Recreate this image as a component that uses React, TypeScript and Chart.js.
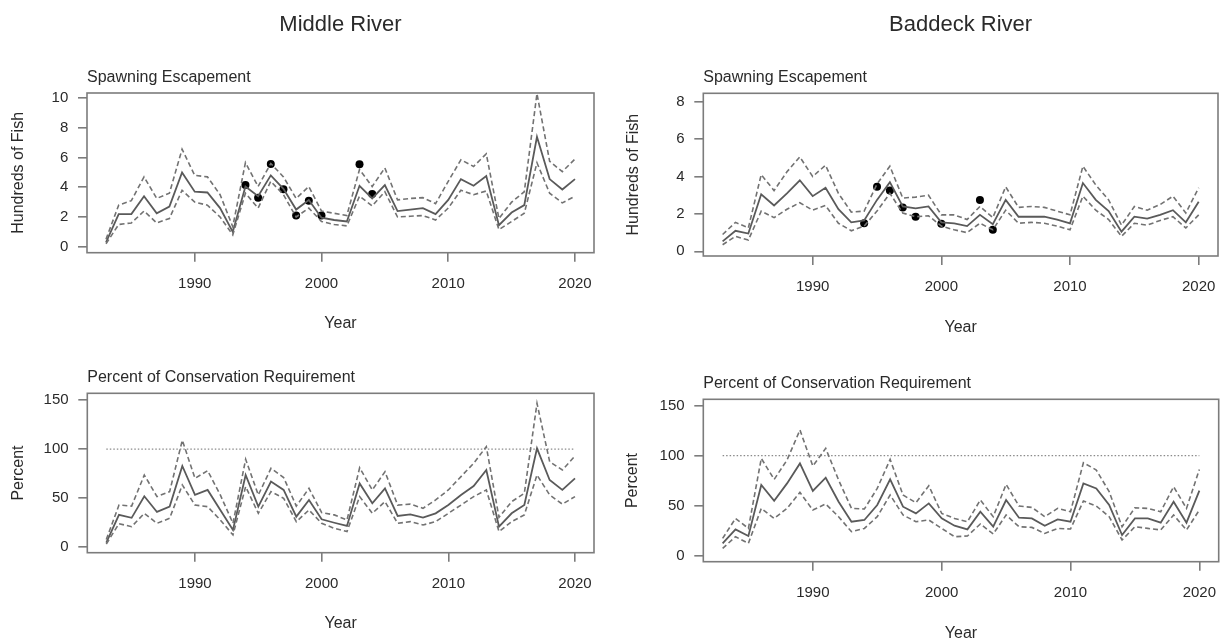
import React, { useEffect, useRef } from 'react';
import { Chart, registerables } from 'chart.js';

Chart.register(...registerables);

// ---------------- DATA ----------------
const years = [1983, 1984, 1985, 1986, 1987, 1988, 1989, 1990, 1991, 1992, 1993, 1994, 1995, 1996, 1997, 1998, 1999, 2000, 2001, 2002, 2003, 2004, 2005, 2006, 2007, 2008, 2009, 2010, 2011, 2012, 2013, 2014, 2015, 2016, 2017, 2018, 2019, 2020];

const xTickYears = [1990, 2000, 2010, 2020];
const escTicksMiddle = [0, 2, 4, 6, 8, 10];
const escTicksBaddeck = [0, 2, 4, 6, 8];
const pctTicks = [0, 50, 100, 150];
const conservationLine = 100;

// Middle River – spawning escapement (hundreds of fish)
const middleEscMid = [0.3, 2.2, 2.2, 3.4, 2.25, 2.7, 5.0, 3.7, 3.65, 2.6, 1.0, 4.05, 3.4, 4.8, 3.9, 2.5, 3.15, 1.95, 1.8, 1.7, 4.1, 3.25, 4.15, 2.4, 2.5, 2.6, 2.2, 3.15, 4.55, 4.1, 4.75, 1.45, 2.3, 2.8, 7.4, 4.55, 3.85, 4.55];
const middleEscUpper = [0.5, 2.8, 3.1, 4.7, 3.25, 3.6, 6.56, 4.8, 4.7, 3.5, 1.35, 5.66, 4.05, 5.6, 4.7, 3.25, 4.05, 2.4, 2.25, 2.1, 5.2, 4.05, 5.3, 3.15, 3.25, 3.3, 2.9, 4.4, 5.85, 5.4, 6.25, 1.9, 3.0, 3.7, 10.3, 5.75, 5.05, 5.9];
const middleEscLower = [0.2, 1.5, 1.6, 2.4, 1.6, 1.9, 3.8, 3.0, 2.8, 2.0, 0.8, 3.6, 2.6, 4.4, 3.5, 2.0, 2.6, 1.7, 1.5, 1.4, 3.4, 2.75, 3.7, 2.0, 2.05, 2.1, 1.8, 2.6, 3.8, 3.5, 3.75, 1.15, 1.7, 2.25, 5.65, 3.6, 2.95, 3.4];
const middleObsYears = [1994, 1995, 1996, 1997, 1998, 1999, 2000, 2003, 2004];
const middleObsValues = [4.15, 3.3, 5.57, 3.87, 2.1, 3.1, 2.1, 5.55, 3.55];

// Baddeck River – spawning escapement (hundreds of fish)
const baddeckEscMid = [0.53, 1.1, 0.95, 3.05, 2.45, 3.1, 3.8, 2.95, 3.4, 2.25, 1.55, 1.65, 2.75, 3.7, 2.4, 2.3, 2.4, 1.55, 1.5, 1.35, 1.95, 1.45, 2.75, 1.85, 1.85, 1.85, 1.7, 1.5, 3.65, 2.75, 2.15, 1.05, 1.85, 1.75, 1.95, 2.2, 1.55, 2.65];
const baddeckEscUpper = [0.9, 1.55, 1.25, 4.1, 3.25, 4.25, 5.05, 4.0, 4.6, 3.1, 2.1, 2.15, 3.6, 4.55, 2.85, 2.9, 3.0, 1.95, 1.95, 1.7, 2.4, 1.8, 3.45, 2.35, 2.4, 2.35, 2.15, 1.95, 4.55, 3.55, 2.75, 1.4, 2.4, 2.2, 2.5, 2.95, 2.05, 3.4];
const baddeckEscLower = [0.35, 0.8, 0.6, 2.15, 1.8, 2.25, 2.6, 2.2, 2.45, 1.5, 1.1, 1.35, 2.15, 3.1, 2.05, 1.85, 1.9, 1.35, 1.15, 1.0, 1.5, 1.15, 2.2, 1.5, 1.55, 1.5, 1.35, 1.15, 2.95, 2.2, 1.7, 0.8, 1.5, 1.4, 1.65, 1.85, 1.25, 1.95];
const baddeckObsYears = [1994, 1995, 1996, 1997, 1998, 2000, 2003, 2004];
const baddeckObsValues = [1.5, 3.45, 3.25, 2.35, 1.85, 1.48, 2.75, 1.15];

// Middle River – percent of conservation requirement
const middlePctMid = [4.75, 33, 30, 52, 36, 41.4, 82.8, 53.3, 58.4, 38, 17.6, 73.6, 41.4, 67, 58.4, 31.2, 48.2, 28.5, 25, 21.7, 65, 44.8, 60, 31.9, 33.6, 30.2, 34.6, 43, 53.3, 62.4, 78.7, 21, 34.6, 43, 100.8, 68.5, 58.4, 70.2];
const middlePctUpper = [8, 43, 42, 73.6, 51.6, 56.7, 109, 70.2, 78, 53.3, 24.4, 89.6, 53.3, 80.4, 71, 42, 60, 35.3, 33, 27.8, 81, 58.4, 77, 43, 44, 39.7, 48.2, 58.4, 72, 85.5, 102.5, 30.5, 46.5, 55, 146.6, 87.2, 78.7, 93];
const middlePctLower = [3.4, 24, 21, 34.6, 24.4, 29.5, 63.5, 43, 41.4, 27.8, 12.6, 61.8, 34.6, 56.7, 49.9, 26.1, 38, 24.4, 19.3, 16, 51.6, 34.6, 46.5, 24.4, 26.1, 22.7, 26.1, 34.6, 43, 51.6, 58.4, 16, 26.1, 33, 73.6, 53.3, 44, 51.6];

// Baddeck River – percent of conservation requirement
const baddeckPctMid = [12.3, 26.3, 19.7, 70.7, 55, 72.3, 92.3, 64.7, 78, 54, 34, 35.7, 50.7, 76.3, 49, 42.3, 52.3, 37.3, 30, 26.3, 44, 29, 55.7, 38, 37.3, 30, 36.3, 34, 72.3, 67.3, 50.7, 20.7, 37.3, 37.3, 33, 54, 33, 65];
const baddeckPctUpper = [17.3, 37.3, 27.3, 97.3, 76.3, 95.7, 125.7, 89.7, 107.3, 75.7, 47.3, 46.7, 67.3, 96.3, 60.7, 53, 70, 42.3, 37.3, 34, 55.7, 39, 71.3, 49.7, 48.3, 39, 47.3, 44, 93, 85.7, 64, 29, 48, 47.3, 44, 69, 47.3, 86.3];
const baddeckPctLower = [7.3, 19, 12.3, 47.3, 37.3, 47.3, 63.3, 45.7, 51.7, 39, 24, 27.3, 39, 60.7, 40.7, 34, 35.7, 27.3, 19, 19.7, 31.7, 21.7, 40.7, 29, 28.3, 22.3, 27.3, 26.7, 54.7, 49.7, 39, 15.7, 29, 27.3, 25.7, 40.7, 25.7, 45.7];

// ---------------- STYLE / LAYOUT ----------------
const FONT = '"Liberation Sans", Arial, sans-serif';
const TEXT = '#2a2a2a';
const AXIS = '#7c7c7c';
const LINE_MID = '#5a5a5a';
const LINE_CI = '#727272';

type Panel = {
  key: string;
  left: number; top: number; width: number; height: number;
  area: { left: number; top: number; right: number; bottom: number };
  yMin: number; yMax: number; yTicks: number[];
  yTitle: string; yTitlePad: number; xTitlePad: number;
  title?: string; subtitle: string;
  mid: number[]; upper: number[]; lower: number[];
  obsYears?: number[]; obsValues?: number[];
  refLine?: number;
};

const panels: Panel[] = [
  {
    key: 'tl', left: 0, top: 0, width: 611, height: 345,
    area: { left: 87, top: 93, right: 594, bottom: 252.7 },
    yMin: -0.4, yMax: 10.34, yTicks: escTicksMiddle,
    yTitle: 'Hundreds of Fish', yTitlePad: 10.3, xTitlePad: 13,
    title: 'Middle River', subtitle: 'Spawning Escapement',
    mid: middleEscMid, upper: middleEscUpper, lower: middleEscLower,
    obsYears: middleObsYears, obsValues: middleObsValues,
  },
  {
    key: 'tr', left: 611, top: 0, width: 611, height: 345,
    area: { left: 92.3, top: 93.3, right: 607.7, bottom: 256 },
    yMin: -0.25, yMax: 8.45, yTicks: escTicksBaddeck,
    yTitle: 'Hundreds of Fish', yTitlePad: 14.5, xTitlePad: 9.7,
    title: 'Baddeck River', subtitle: 'Spawning Escapement',
    mid: baddeckEscMid, upper: baddeckEscUpper, lower: baddeckEscLower,
    obsYears: baddeckObsYears, obsValues: baddeckObsValues,
  },
  {
    key: 'bl', left: 0, top: 345, width: 611, height: 297,
    area: { left: 87.3, top: 48.3, right: 594, bottom: 207.7 },
    yMin: -5.5, yMax: 156.8, yTicks: pctTicks,
    yTitle: 'Percent', yTitlePad: 10.3, xTitlePad: 10,
    subtitle: 'Percent of Conservation Requirement',
    mid: middlePctMid, upper: middlePctUpper, lower: middlePctLower,
    refLine: conservationLine,
  },
  {
    key: 'br', left: 611, top: 345, width: 611, height: 297,
    area: { left: 92.3, top: 54.3, right: 607.7, bottom: 216.7 },
    yMin: -6, yMax: 156.4, yTicks: pctTicks,
    yTitle: 'Percent', yTitlePad: 13.3, xTitlePad: 0.5,
    subtitle: 'Percent of Conservation Requirement',
    mid: baddeckPctMid, upper: baddeckPctUpper, lower: baddeckPctLower,
    refLine: conservationLine,
  },
];

const boxPlugin = {
  id: 'plotBox',
  afterDraw(chart: any) {
    const { ctx, chartArea } = chart;
    ctx.save();
    ctx.strokeStyle = AXIS;
    ctx.lineWidth = 1.6;
    ctx.strokeRect(chartArea.left, chartArea.top, chartArea.right - chartArea.left, chartArea.bottom - chartArea.top);
    ctx.restore();
  },
};

const panelTextPlugin = {
  id: 'panelText',
  afterDraw(chart: any, _args: any, opts: any) {
    const { ctx, chartArea } = chart;
    ctx.save();
    ctx.fillStyle = TEXT;
    ctx.textBaseline = 'alphabetic';
    if (opts.subtitle) {
      ctx.font = `16px ${FONT}`;
      ctx.textAlign = 'left';
      ctx.fillText(opts.subtitle, chartArea.left, chartArea.top - 11.5);
    }
    if (opts.title) {
      ctx.font = `22px ${FONT}`;
      ctx.textAlign = 'center';
      ctx.fillText(opts.title, (chartArea.left + chartArea.right) / 2, 31);
    }
    ctx.restore();
  },
};

function PanelChart({ p }: { p: Panel }) {
  const ref = useRef<HTMLCanvasElement | null>(null);
  useEffect(() => {
    if (!ref.current) return;
    const pts = (arr: number[]) => years.map((x, i) => ({ x, y: arr[i] }));
    const datasets: any[] = [
      { data: pts(p.upper), borderColor: LINE_CI, borderWidth: 1.6, borderDash: [5, 3], pointRadius: 0, tension: 0 },
      { data: pts(p.lower), borderColor: LINE_CI, borderWidth: 1.6, borderDash: [5, 3], pointRadius: 0, tension: 0 },
      { data: pts(p.mid), borderColor: LINE_MID, borderWidth: 1.8, pointRadius: 0, tension: 0 },
    ];
    if (p.refLine !== undefined) {
      datasets.push({
        data: [{ x: years[0], y: p.refLine }, { x: years[years.length - 1], y: p.refLine }],
        borderColor: '#8a8a8a', borderWidth: 1.3, borderDash: [1.5, 2], pointRadius: 0,
      });
    }
    if (p.obsYears && p.obsValues) {
      const ov = p.obsValues;
      datasets.push({
        type: 'scatter',
        data: p.obsYears.map((x, i) => ({ x, y: ov[i] })),
        showLine: false, pointRadius: 4, pointBackgroundColor: '#000', pointBorderColor: '#000', borderWidth: 0,
      });
    }
    const tickFont = { family: FONT, size: 15 };
    const titleFont = { family: FONT, size: 16, lineHeight: 1 };
    const chart = new Chart(ref.current, {
      type: 'line',
      data: { datasets },
      options: {
        animation: false,
        responsive: false,
        devicePixelRatio: 1,
        layout: { padding: { left: 0, top: p.area.top, right: p.width - p.area.right, bottom: 0 } },
        plugins: {
          legend: { display: false },
          tooltip: { enabled: false },
          panelText: { title: p.title, subtitle: p.subtitle },
        } as any,
        scales: {
          x: {
            type: 'linear',
            min: 1981.5,
            max: 2021.5,
            afterBuildTicks: (s: any) => { s.ticks = xTickYears.map((v) => ({ value: v })); },
            afterFit: (s: any) => { s.height = p.height - p.area.bottom; s.paddingLeft = 0; s.paddingRight = 0; },
            grid: { display: true, drawOnChartArea: false, drawTicks: true, tickLength: 9, color: AXIS, lineWidth: 1.6 },
            border: { display: false },
            ticks: { font: tickFont, color: TEXT, padding: 13.3, maxRotation: 0, autoSkip: false, callback: (v: any) => String(v) },
            title: { display: true, text: 'Year', font: titleFont, color: TEXT, padding: { top: 0, bottom: p.xTitlePad } },
          },
          y: {
            type: 'linear',
            min: p.yMin,
            max: p.yMax,
            afterBuildTicks: (s: any) => { s.ticks = p.yTicks.map((v) => ({ value: v })); },
            afterFit: (s: any) => { s.width = p.area.left; s.paddingTop = 0; s.paddingBottom = 0; },
            grid: { display: true, drawOnChartArea: false, drawTicks: true, tickLength: 9, color: AXIS, lineWidth: 1.6 },
            border: { display: false },
            ticks: { font: tickFont, color: TEXT, padding: 9.7, autoSkip: false, callback: (v: any) => String(v) },
            title: { display: true, text: p.yTitle, font: titleFont, color: TEXT, padding: { top: p.yTitlePad, bottom: 0 } },
          },
        },
      },
      plugins: [boxPlugin, panelTextPlugin],
    } as any);
    return () => chart.destroy();
  }, [p]);
  return (
    <canvas
      ref={ref}
      width={p.width}
      height={p.height}
      style={{ position: 'absolute', left: p.left, top: p.top, width: p.width, height: p.height }}
    />
  );
}

export default function App() {
  return (
    <div style={{ position: 'fixed', left: 0, top: 0, width: 1222, height: 642, background: '#fff', overflow: 'hidden' }}>
      {panels.map((p) => (
        <PanelChart key={p.key} p={p} />
      ))}
    </div>
  );
}
